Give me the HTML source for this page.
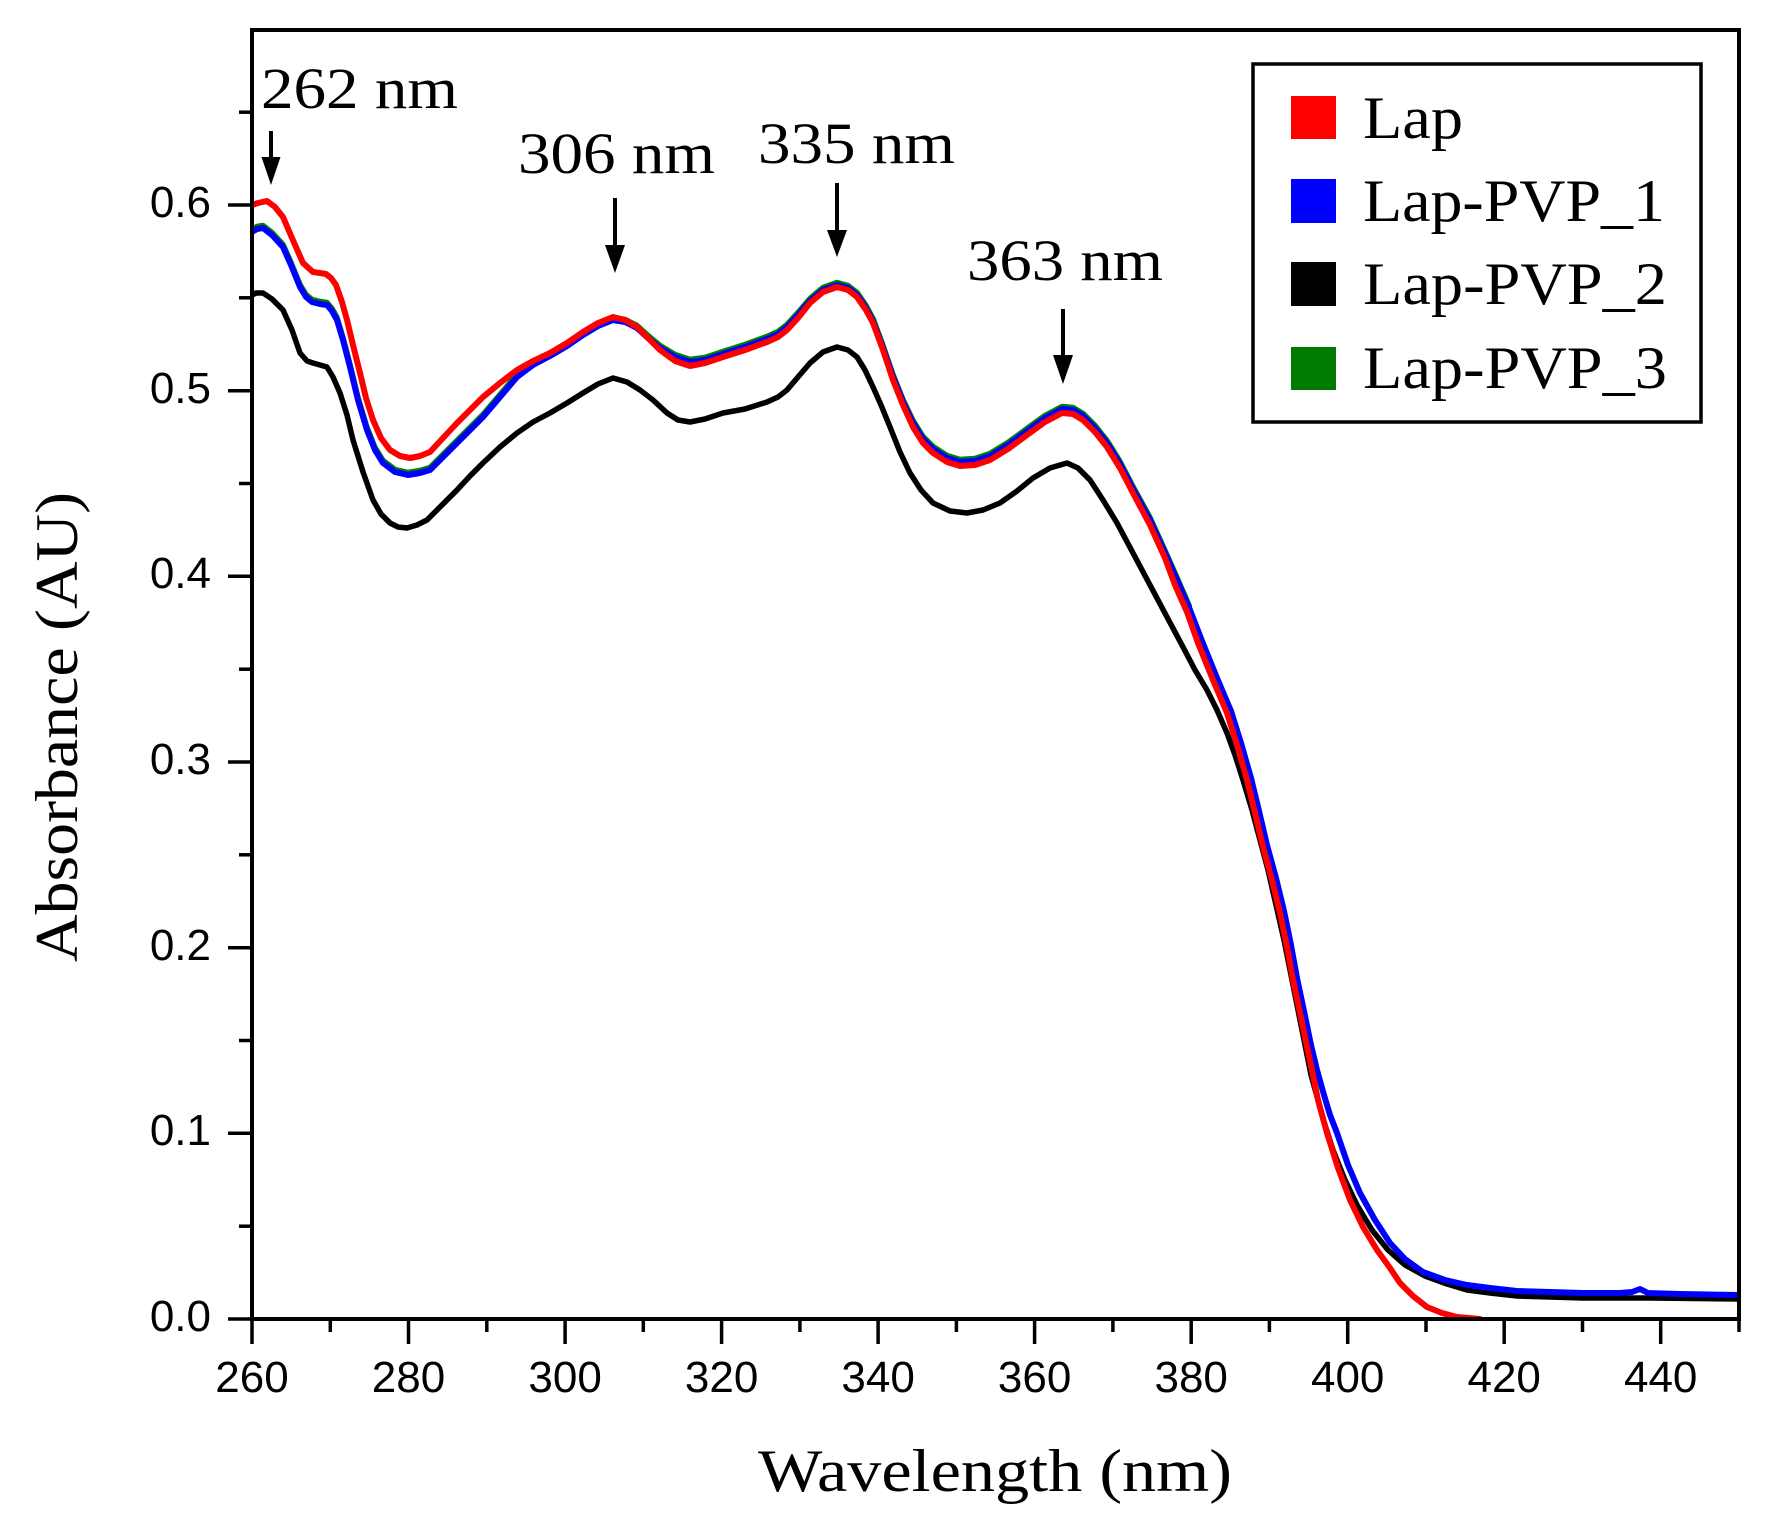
<!DOCTYPE html>
<html>
<head>
<meta charset="utf-8">
<style>
  html,body{margin:0;padding:0;background:#fff;}
  svg{display:block;}
  .tl{font-family:"Liberation Sans",Arial,sans-serif;font-size:44px;fill:#000;}
  .sf{font-family:"Liberation Serif","Times New Roman",serif;fill:#000;}
</style>
</head>
<body>
<svg width="1771" height="1524" viewBox="0 0 1771 1524" xmlns="http://www.w3.org/2000/svg">
  <defs>
    <clipPath id="plot"><rect x="252" y="30" width="1487" height="1289"/></clipPath>
    <clipPath id="gclip"><rect x="252" y="30" width="940" height="1289"/></clipPath>
  </defs>
  <rect x="0" y="0" width="1771" height="1524" fill="#fff"/>

  <!-- curves -->
  <g clip-path="url(#plot)" fill="none" stroke-linejoin="round" stroke-linecap="round">
    <!-- Lap-PVP_2 black -->
    <polyline stroke="#000" stroke-width="5.5" points="252,295 256,293 263,293 272,299 283,310 292,330 300,353 307,361 313,363 320,365 327,367 333,377 340,393 347,415 353,440 363,472 373,500 381,514 390,523 398,527 407,528 417,525 427,520 442,505 457,490 470,476 483,463 500,447 517,433 533,422 550,413 567,403 583,393 598,384 613,378 627,382 640,390 653,400 667,413 678,420 690,422 705,419 723,413 745,409 767,402 778,397 787,390 798,377 810,363 823,352 837,347 848,350 857,357 865,370 873,387 881,405 890,427 900,452 910,473 921,490 933,503 950,511 967,513 983,510 1000,503 1017,491 1033,478 1050,468 1067,463 1078,468 1090,480 1103,500 1117,523 1133,553 1150,585 1167,617 1183,647 1195,670 1207,690 1217,710 1227,733 1235,755 1243,780 1252,810 1260,840 1268,870 1276,905 1284,940 1291,975 1298,1010 1305,1045 1311,1075 1318,1100 1325,1125 1333,1150 1345,1180 1357,1205 1372,1230 1388,1250 1405,1265 1425,1276 1447,1284 1467,1290 1490,1293 1517,1296 1550,1297 1583,1298 1650,1298 1737,1299"/>
    <!-- Lap-PVP_3 green (slightly above blue) -->
    <g clip-path="url(#gclip)">
    <polyline transform="translate(0,-2.5)" stroke="#008000" stroke-width="5.5" points="252,232 257,229 263,228 272,235 283,247 291,265 300,287 306,297 312,302 320,304 327,305 332,311 337,320 343,340 350,367 358,400 367,430 375,450 383,463 395,472 408,475 420,473 430,470 443,457 457,443 470,430 483,417 500,397 517,377 533,365 550,356 567,346 583,335 598,326 613,320 625,322 637,328 648,338 660,348 675,357 690,362 705,360 723,354 745,347 767,339 778,334 787,327 798,315 810,301 823,290 837,285 848,288 857,295 866,308 873,321 883,348 893,377 903,402 913,423 923,439 933,449 947,458 960,462 975,461 990,456 1008,445 1027,431 1045,418 1062,409 1073,410 1083,416 1095,428 1107,443 1120,464 1133,489 1150,520 1165,553 1177,580 1190,610"/>
    </g>
    <!-- Lap-PVP_1 blue -->
    <polyline stroke="#0000ff" stroke-width="6" points="252,232 257,229 263,228 272,235 283,247 291,265 300,287 306,297 312,302 320,304 327,305 332,311 337,320 343,340 350,367 358,400 367,430 375,450 383,463 395,472 408,475 420,473 430,470 443,457 457,443 470,430 483,417 500,397 517,377 533,365 550,356 567,346 583,335 598,326 613,320 625,322 637,328 648,338 660,348 675,357 690,362 705,360 723,354 745,347 767,339 778,334 787,327 798,315 810,301 823,290 837,285 848,288 857,295 866,308 873,321 883,348 893,377 903,402 913,423 923,439 933,449 947,458 960,462 975,461 990,456 1008,445 1027,431 1045,418 1062,409 1073,410 1083,416 1095,428 1107,443 1120,464 1133,489 1150,520 1165,553 1177,580 1190,610 1202,641 1217,678 1231,711 1241,743 1251,778 1259,811 1267,845 1276,878 1284,911 1291,945 1297,978 1304,1011 1311,1045 1317,1070 1324,1095 1330,1115 1337,1133 1348,1165 1360,1193 1375,1220 1390,1243 1405,1259 1423,1272 1445,1280 1467,1285 1490,1288 1517,1291 1550,1292 1583,1293 1620,1293 1632,1292 1640,1289 1648,1293 1680,1294 1737,1295"/>
    <!-- Lap red -->
    <polyline stroke="#ff0000" stroke-width="6" points="252,205 258,203 267,201 275,207 283,217 292,238 303,263 313,272 320,273 326,274 331,278 336,285 342,302 347,320 353,345 360,373 366,398 373,420 381,438 390,450 400,456 410,458 420,456 430,452 443,438 457,423 470,410 483,397 500,383 517,370 533,361 550,353 567,343 583,332 598,323 613,317 625,320 637,327 648,338 660,350 675,361 690,366 705,363 723,357 745,350 767,342 778,337 787,330 798,318 810,303 823,292 837,287 848,290 857,297 866,310 873,323 883,350 893,380 903,405 913,427 923,443 933,453 947,462 960,466 975,465 990,460 1008,449 1027,435 1045,422 1062,413 1073,414 1083,420 1095,432 1107,447 1120,468 1133,493 1150,525 1165,558 1175,585 1187,612 1198,643 1213,680 1227,713 1237,745 1247,780 1255,813 1263,847 1272,880 1280,913 1287,947 1293,980 1300,1013 1307,1047 1313,1075 1318,1100 1322,1115 1327,1133 1338,1168 1350,1200 1363,1227 1377,1250 1390,1268 1400,1283 1413,1296 1427,1307 1442,1313 1457,1317 1480,1319"/>
  </g>

  <!-- frame -->
  <rect x="252" y="30" width="1487" height="1289" fill="none" stroke="#000" stroke-width="4"/>

  <!-- y ticks -->
  <g stroke="#000" stroke-width="3.5">
    <line x1="228" y1="1319" x2="252" y2="1319"/>
    <line x1="228" y1="1133.3" x2="252" y2="1133.3"/>
    <line x1="228" y1="947.7" x2="252" y2="947.7"/>
    <line x1="228" y1="762" x2="252" y2="762"/>
    <line x1="228" y1="576.3" x2="252" y2="576.3"/>
    <line x1="228" y1="390.7" x2="252" y2="390.7"/>
    <line x1="228" y1="205" x2="252" y2="205"/>
    <line x1="239" y1="1226.2" x2="252" y2="1226.2"/>
    <line x1="239" y1="1040.5" x2="252" y2="1040.5"/>
    <line x1="239" y1="854.8" x2="252" y2="854.8"/>
    <line x1="239" y1="669.2" x2="252" y2="669.2"/>
    <line x1="239" y1="483.5" x2="252" y2="483.5"/>
    <line x1="239" y1="297.8" x2="252" y2="297.8"/>
    <line x1="239" y1="112.2" x2="252" y2="112.2"/>
  </g>
  <!-- x ticks -->
  <g stroke="#000" stroke-width="3.5">
    <line x1="252" y1="1319" x2="252" y2="1344"/>
    <line x1="408.5" y1="1319" x2="408.5" y2="1344"/>
    <line x1="565.1" y1="1319" x2="565.1" y2="1344"/>
    <line x1="721.6" y1="1319" x2="721.6" y2="1344"/>
    <line x1="878.1" y1="1319" x2="878.1" y2="1344"/>
    <line x1="1034.6" y1="1319" x2="1034.6" y2="1344"/>
    <line x1="1191.2" y1="1319" x2="1191.2" y2="1344"/>
    <line x1="1347.7" y1="1319" x2="1347.7" y2="1344"/>
    <line x1="1504.2" y1="1319" x2="1504.2" y2="1344"/>
    <line x1="1660.7" y1="1319" x2="1660.7" y2="1344"/>
    <line x1="330.3" y1="1319" x2="330.3" y2="1332"/>
    <line x1="486.8" y1="1319" x2="486.8" y2="1332"/>
    <line x1="643.3" y1="1319" x2="643.3" y2="1332"/>
    <line x1="799.9" y1="1319" x2="799.9" y2="1332"/>
    <line x1="956.4" y1="1319" x2="956.4" y2="1332"/>
    <line x1="1112.9" y1="1319" x2="1112.9" y2="1332"/>
    <line x1="1269.4" y1="1319" x2="1269.4" y2="1332"/>
    <line x1="1426" y1="1319" x2="1426" y2="1332"/>
    <line x1="1582.5" y1="1319" x2="1582.5" y2="1332"/>
    <line x1="1739" y1="1319" x2="1739" y2="1332"/>
  </g>

  <!-- y tick labels -->
  <g class="tl" text-anchor="end">
    <text x="211" y="1331">0.0</text>
    <text x="211" y="1145">0.1</text>
    <text x="211" y="960">0.2</text>
    <text x="211" y="774">0.3</text>
    <text x="211" y="588">0.4</text>
    <text x="211" y="403">0.5</text>
    <text x="211" y="217">0.6</text>
  </g>
  <!-- x tick labels -->
  <g class="tl" text-anchor="middle">
    <text x="252" y="1392">260</text>
    <text x="408.5" y="1392">280</text>
    <text x="565.1" y="1392">300</text>
    <text x="721.6" y="1392">320</text>
    <text x="878.1" y="1392">340</text>
    <text x="1034.6" y="1392">360</text>
    <text x="1191.2" y="1392">380</text>
    <text x="1347.7" y="1392">400</text>
    <text x="1504.2" y="1392">420</text>
    <text x="1660.7" y="1392">440</text>
  </g>

  <!-- axis titles -->
  <text class="sf" x="758" y="1491" font-size="60" textLength="474" lengthAdjust="spacingAndGlyphs">Wavelength (nm)</text>
  <text class="sf" transform="translate(77,727) rotate(-90)" text-anchor="middle" font-size="60" textLength="470" lengthAdjust="spacingAndGlyphs">Absorbance (AU)</text>

  <!-- annotations -->
  <g class="sf" font-size="58">
    <text x="261" y="108" textLength="197" lengthAdjust="spacingAndGlyphs">262 nm</text>
    <text x="518" y="173" textLength="197" lengthAdjust="spacingAndGlyphs">306 nm</text>
    <text x="758" y="163" textLength="197" lengthAdjust="spacingAndGlyphs">335 nm</text>
    <text x="967" y="280" textLength="196" lengthAdjust="spacingAndGlyphs">363 nm</text>
  </g>
  <!-- arrows -->
  <g stroke="#000" stroke-width="4">
    <line x1="271" y1="131" x2="271" y2="160"/>
    <line x1="615" y1="198" x2="615" y2="248"/>
    <line x1="837" y1="183" x2="837" y2="233"/>
    <line x1="1063" y1="309" x2="1063" y2="358"/>
  </g>
  <g fill="#000">
    <polygon points="261.5,157 280.5,157 271,185"/>
    <polygon points="605,245 625,245 615,273"/>
    <polygon points="827,230 847,230 837,257"/>
    <polygon points="1053,355 1073,355 1063,384"/>
  </g>

  <!-- legend -->
  <rect x="1253" y="64" width="448" height="358" fill="#fff" stroke="#000" stroke-width="3.5"/>
  <rect x="1291" y="96" width="45" height="43" fill="#ff0000"/>
  <rect x="1291" y="179" width="45" height="44" fill="#0000ff"/>
  <rect x="1291" y="262" width="45" height="44" fill="#000000"/>
  <rect x="1291" y="347" width="45" height="43" fill="#007a00"/>
  <g class="sf" font-size="60">
    <text x="1363" y="138" textLength="100" lengthAdjust="spacingAndGlyphs">Lap</text>
    <text x="1363" y="221" textLength="302" lengthAdjust="spacingAndGlyphs">Lap-PVP_1</text>
    <text x="1363" y="304" textLength="304" lengthAdjust="spacingAndGlyphs">Lap-PVP_2</text>
    <text x="1363" y="388" textLength="304" lengthAdjust="spacingAndGlyphs">Lap-PVP_3</text>
  </g>
</svg>
</body>
</html>
